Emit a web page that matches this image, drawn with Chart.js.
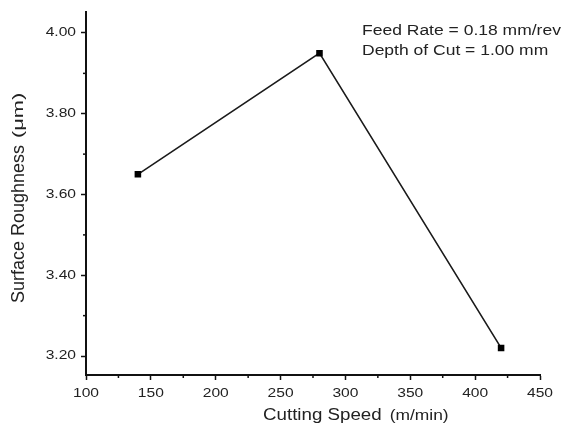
<!DOCTYPE html>
<html>
<head>
<meta charset="utf-8">
<script src="https://cdn.jsdelivr.net/npm/chart.js@4"></script>
<style>
  html, body { margin: 0; padding: 0; background: #fff; }
  #wrap { width: 564px; height: 429px; }
</style>
</head>
<body>
<div id="wrap"><canvas id="c" width="564" height="429"></canvas></div>
<script>
const speeds = [140, 280, 420];
const roughness = [3.65, 3.95, 3.22];
const xTicks = [100, 150, 200, 250, 300, 350, 400, 450];
const yTicks = [3.20, 3.40, 3.60, 3.80, 4.00];
const xTicksMinor = [125, 175, 225, 275, 325, 375, 425];
const yTicksMinor = [3.30, 3.50, 3.70, 3.90];
const noteLines = ['Feed Rate = 0.18 mm/rev', 'Depth of Cut = 1.00 mm'];

const FONT = '"Liberation Sans", Arial, sans-serif';
const TEXT = '#222';

// draws text squeezed/stretched along its own direction
function wideText(ctx, str, x, y, size, sx, align) {
  ctx.save();
  ctx.translate(x, y);
  ctx.scale(sx, 1);
  ctx.font = size + 'px ' + FONT;
  ctx.textAlign = align;
  ctx.textBaseline = 'middle';
  ctx.fillText(str, 0, 0);
  const w = ctx.measureText(str).width * sx;
  ctx.restore();
  return w;
}

// tick labels, minor ticks, axis titles, note text
const extras = {
  id: 'extras',
  afterDraw(chart) {
    const ctx = chart.ctx;
    const xs = chart.scales.x, ys = chart.scales.y;
    const area = chart.chartArea;
    ctx.save();
    ctx.strokeStyle = '#111';
    ctx.lineWidth = 1.5;
    xTicksMinor.forEach(v => {
      const px = xs.getPixelForValue(v);
      ctx.beginPath(); ctx.moveTo(px, area.bottom); ctx.lineTo(px, area.bottom + 3); ctx.stroke();
    });
    yTicksMinor.forEach(v => {
      const py = ys.getPixelForValue(v);
      ctx.beginPath(); ctx.moveTo(area.left, py); ctx.lineTo(area.left - 3, py); ctx.stroke();
    });

    ctx.fillStyle = TEXT;
    xTicks.forEach(v => wideText(ctx, String(v), xs.getPixelForValue(v), area.bottom + 19, 12, 1.3, 'center'));
    yTicks.forEach(v => wideText(ctx, v.toFixed(2), area.left - 10, ys.getPixelForValue(v), 12, 1.3, 'right'));

    // x title
    let w = wideText(ctx, 'Cutting Speed', 263, 416, 16, 1.17, 'left');
    wideText(ctx, '(m/min)', 263 + w + 8, 416, 14.5, 1.2, 'left');

    // y title, reads bottom to top
    ctx.save();
    ctx.translate(19, 303);
    ctx.rotate(-Math.PI / 2);
    w = wideText(ctx, 'Surface Roughness', 0, 0, 18, 1.0, 'left');
    wideText(ctx, '(μm)', w + 7, 0, 15, 1.45, 'left');
    ctx.restore();

    noteLines.forEach((t, i) => wideText(ctx, t, 362, 31 + i * 20, 14, 1.25, 'left'));
    ctx.restore();
  }
};

new Chart(document.getElementById('c'), {
  type: 'line',
  data: {
    datasets: [{
      data: speeds.map((s, i) => ({ x: s, y: roughness[i] })),
      borderColor: '#1a1a1a',
      borderWidth: 1.6,
      pointStyle: 'rect',
      pointRadius: 3.5,
      pointBackgroundColor: '#000',
      pointBorderColor: '#000',
      tension: 0,
    }],
  },
  options: {
    responsive: false,
    animation: false,
    layout: { padding: { top: 12, right: 24, left: 0, bottom: 0 } },
    plugins: { legend: { display: false }, tooltip: { enabled: false } },
    scales: {
      x: {
        type: 'linear',
        min: 100, max: 450,
        border: { color: '#111', width: 2 },
        grid: { drawOnChartArea: false, drawTicks: true, tickLength: 5, tickColor: '#111', tickWidth: 1.5 },
        ticks: { stepSize: 50, display: false },
        afterFit(scale) { scale.height = 54; },
      },
      y: {
        min: 3.153, max: 4.052,
        border: { color: '#111', width: 2 },
        grid: { drawOnChartArea: false, drawTicks: true, tickLength: 5, tickColor: '#111', tickWidth: 1.5 },
        ticks: { stepSize: 0.2, includeBounds: false, display: false },
        afterFit(scale) { scale.width = 86; },
      },
    },
  },
  plugins: [extras],
});
</script>
</body>
</html>
